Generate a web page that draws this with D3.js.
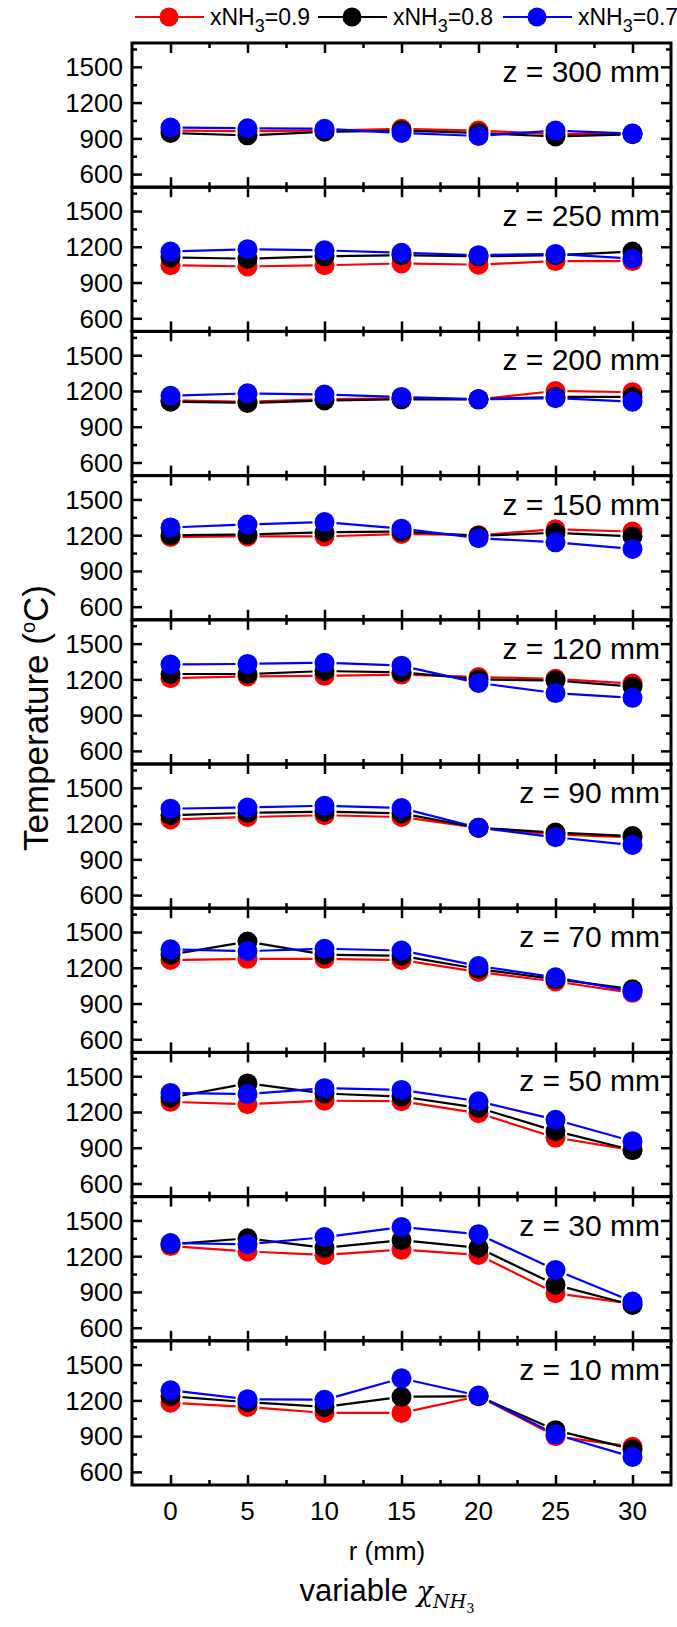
<!DOCTYPE html>
<head>
<meta charset="utf-8">
<title>Temperature profiles</title>
<script type="text/javascript" src="https://d3js.org/d3.v7.min.js"></script>
<style>
body { margin: 0; background: #fff; }
text { font-family: "Liberation Sans", Arial, sans-serif; fill: #000; }
</style>
</head>
<body>
<div id="chart"></div>

<script>
// radial positions (mm) and axial stations (mm)
var rPos = [0, 5, 10, 15, 20, 25, 30];
var zStations = [300, 250, 200, 150, 120, 90, 70, 50, 30, 10];
var yTicks = [600, 900, 1200, 1500];
var xTicks = [0, 5, 10, 15, 20, 25, 30];

// temperature (oC), one row per z station
var tNH3_09 = [
  [965, 960, 965, 980, 965, 935, 940],
  [1045, 1035, 1045, 1060, 1050, 1080, 1080],
  [1120, 1110, 1130, 1140, 1130, 1200, 1190],
  [1185, 1190, 1190, 1210, 1200, 1250, 1230],
  [1210, 1225, 1230, 1240, 1220, 1205, 1165],
  [1235, 1255, 1270, 1255, 1165, 1110, 1085],
  [1265, 1275, 1275, 1265, 1165, 1085, 990],
  [1285, 1265, 1295, 1290, 1190, 985, 880],
  [1285, 1240, 1210, 1255, 1210, 890, 800],
  [1180, 1145, 1095, 1095, 1235, 900, 810]
];
var tNH3_08 = [
  [945, 925, 955, 965, 945, 915, 935],
  [1110, 1100, 1120, 1130, 1120, 1130, 1160],
  [1110, 1100, 1120, 1130, 1130, 1150, 1150],
  [1200, 1205, 1225, 1230, 1195, 1220, 1190],
  [1245, 1245, 1270, 1260, 1200, 1190, 1140],
  [1270, 1290, 1300, 1285, 1165, 1125, 1095],
  [1310, 1420, 1310, 1300, 1190, 1105, 1020],
  [1320, 1440, 1355, 1330, 1235, 1040, 880],
  [1300, 1350, 1270, 1335, 1270, 960, 790],
  [1235, 1185, 1145, 1230, 1235, 950, 790]
];
var tNH3_07 = [
  [990, 985, 980, 945, 920, 965, 940],
  [1160, 1180, 1170, 1150, 1130, 1140, 1100],
  [1160, 1180, 1170, 1150, 1130, 1140, 1110],
  [1265, 1290, 1310, 1255, 1175, 1140, 1085],
  [1325, 1330, 1340, 1315, 1170, 1085, 1045],
  [1325, 1335, 1350, 1330, 1165, 1085, 1020],
  [1355, 1340, 1360, 1345, 1215, 1120, 1000],
  [1360, 1350, 1400, 1385, 1290, 1135, 955],
  [1310, 1300, 1360, 1445, 1385, 1085, 820],
  [1285, 1210, 1205, 1385, 1240, 915, 725]
];

var seriesNames = ["0.9", "0.8", "0.7"];
var seriesColors = ["#ff0000", "#000000", "#0000ff"];
var seriesData = [tNH3_09, tNH3_08, tNH3_07];

// layout
var W = 677, H = 1627;
var plotLeft = 132, plotRight = 671;
var plotTop = 43, panelH = 144.2;
var markR = 10;
var gap = 12;

var svg = d3.select("#chart")
  .append("svg")
    .attr("width", W)
    .attr("height", H);

var xScale = d3.scaleLinear()
    .domain([-2.5, 32.5])
    .range([plotLeft, plotRight]);

//*******************************
// one panel per z station
//*******************************
zStations.forEach(function(z, i) {
  var top = plotTop + i * panelH;
  var yScale = d3.scaleLinear()
      .domain([490, 1700])
      .range([top + panelH, top]);

  var g = svg.append("g");

  // ticks, all pointing inward
  var yAll = [600, 750, 900, 1050, 1200, 1350, 1500, 1650];
  var left = d3.axisRight(yScale).tickValues(yAll).tickSize(0).tickFormat("");
  var gl = g.append("g").attr("transform", "translate(" + plotLeft + ",0)").call(left);
  gl.select(".domain").remove();
  gl.selectAll(".tick line")
      .attr("x2", function(d) { return yTicks.indexOf(d) >= 0 ? 10 : 5; })
      .attr("stroke", "#000").attr("stroke-width", 2.5);

  var right = d3.axisLeft(yScale).tickValues(yAll).tickSize(0).tickFormat("");
  var gr = g.append("g").attr("transform", "translate(" + plotRight + ",0)").call(right);
  gr.select(".domain").remove();
  gr.selectAll(".tick line")
      .attr("x2", function(d) { return yTicks.indexOf(d) >= 0 ? -10 : -5; })
      .attr("stroke", "#000").attr("stroke-width", 2.5);

  var xAll = [0, 2.5, 5, 7.5, 10, 12.5, 15, 17.5, 20, 22.5, 25, 27.5, 30];
  var bottom = d3.axisTop(xScale).tickValues(xAll).tickSize(0).tickFormat("");
  var gb = g.append("g").attr("transform", "translate(0," + (top + panelH) + ")").call(bottom);
  gb.select(".domain").remove();
  gb.selectAll(".tick line")
      .attr("y2", function(d) { return xTicks.indexOf(d) >= 0 ? -10 : -5; })
      .attr("stroke", "#000").attr("stroke-width", 2.5);

  var topAx = d3.axisBottom(xScale).tickValues(xAll).tickSize(0).tickFormat("");
  var gt = g.append("g").attr("transform", "translate(0," + top + ")").call(topAx);
  gt.select(".domain").remove();
  gt.selectAll(".tick line")
      .attr("y2", function(d) { return xTicks.indexOf(d) >= 0 ? 10 : 5; })
      .attr("stroke", "#000").attr("stroke-width", 2.5);

  // y tick labels
  g.selectAll(".ylab")
    .data(yTicks)
    .enter().append("text")
      .attr("x", plotLeft - 9)
      .attr("y", function(d) { return yScale(d); })
      .attr("dy", "0.36em")
      .attr("text-anchor", "end")
      .style("font-size", "26px")
      .text(function(d) { return d; });

  // lines with a small gap to the symbols, then symbols
  seriesData.forEach(function(rows, s) {
    var pts = rPos.map(function(r, k) { return [xScale(r), yScale(rows[i][k])]; });
    for (var k = 0; k < pts.length - 1; k++) {
      var dx = pts[k + 1][0] - pts[k][0], dy = pts[k + 1][1] - pts[k][1];
      var len = Math.sqrt(dx * dx + dy * dy);
      if (len <= 2 * gap) continue;
      var ux = dx / len, uy = dy / len;
      g.append("line")
        .attr("x1", pts[k][0] + ux * gap).attr("y1", pts[k][1] + uy * gap)
        .attr("x2", pts[k + 1][0] - ux * gap).attr("y2", pts[k + 1][1] - uy * gap)
        .attr("stroke", seriesColors[s])
        .attr("stroke-width", 2.2);
    }
  });
  seriesData.forEach(function(rows, s) {
    g.selectAll(".m" + s)
      .data(rPos)
      .enter().append("circle")
        .attr("cx", function(r) { return xScale(r); })
        .attr("cy", function(r, k) { return yScale(rows[i][k]); })
        .attr("r", markR)
        .attr("fill", seriesColors[s]);
  });

  // frame
  g.append("rect")
    .attr("x", plotLeft).attr("y", top)
    .attr("width", plotRight - plotLeft).attr("height", panelH)
    .attr("fill", "none")
    .attr("stroke", "#000")
    .attr("stroke-width", 3);

  // z label
  g.append("text")
    .attr("x", 660)
    .attr("y", top + 39)
    .attr("text-anchor", "end")
    .style("font-size", "30px")
    .text("z = " + z + " mm");
});

//**********************
// x axis labels
//**********************
var plotBottom = plotTop + zStations.length * panelH;
svg.selectAll(".xlab")
  .data(xTicks)
  .enter().append("text")
    .attr("x", function(d) { return xScale(d); })
    .attr("y", plotBottom + 35)
    .attr("text-anchor", "middle")
    .style("font-size", "26px")
    .text(function(d) { return d; });

svg.append("text")
  .attr("x", 387)
  .attr("y", 1560)
  .attr("text-anchor", "middle")
  .style("font-size", "26px")
  .text("r (mm)");

var vt = svg.append("text")
  .attr("x", 387)
  .attr("y", 1601)
  .attr("text-anchor", "middle")
  .style("font-size", "31px");
vt.append("tspan").text("variable ");
vt.append("tspan").style("font-family", "'DejaVu Serif', serif").style("font-style", "italic").style("font-size", "27px").text("\u03c7");
vt.append("tspan").attr("dy", 7).style("font-size", "19px")
  .style("font-family", "'DejaVu Serif', serif").style("font-style", "italic").text("NH");
vt.append("tspan").attr("dy", 5).style("font-size", "13px")
  .style("font-family", "'DejaVu Serif', serif").text("3");

// y axis title
var yt = svg.append("text")
  .attr("transform", "translate(48,718) rotate(-90)")
  .attr("text-anchor", "middle")
  .style("font-size", "35px");
yt.append("tspan").text("Temperature (");
yt.append("tspan").attr("dy", -13).style("font-size", "20px").text("o");
yt.append("tspan").attr("dy", 13).text("C)");

//**********************
// legend
//**********************
var legX = [135, 318, 503];
seriesNames.forEach(function(name, s) {
  var lg = svg.append("g").attr("transform", "translate(" + legX[s] + ",17)");
  lg.append("line").attr("x1", 0).attr("x2", 69).attr("y1", 0).attr("y2", 0)
    .attr("stroke", seriesColors[s]).attr("stroke-width", 2);
  lg.append("circle").attr("cx", 34).attr("cy", 0).attr("r", 9.5).attr("fill", seriesColors[s]);
  var t = lg.append("text").attr("x", 75).attr("y", 8).style("font-size", "23px");
  t.append("tspan").text("xNH");
  t.append("tspan").attr("dy", 7).style("font-size", "18px").text("3");
  t.append("tspan").attr("dy", -7).text("=" + name);
});
</script>
</body>
